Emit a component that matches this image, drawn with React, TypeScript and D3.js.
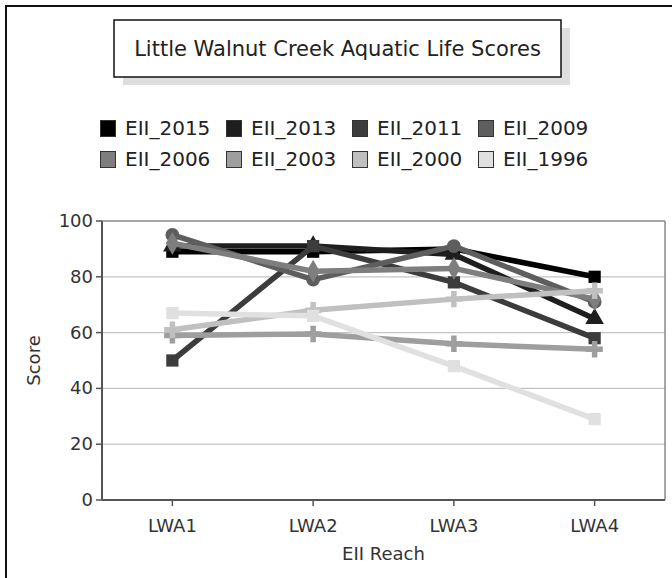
import React from "react";
import * as d3 from "d3";

const categories = ["LWA1", "LWA2", "LWA3", "LWA4"];
const seriesNames = ["EII_2015", "EII_2013", "EII_2011", "EII_2009", "EII_2006", "EII_2003", "EII_2000", "EII_1996"];
const seriesColors = ["#000000", "#1e1e1e", "#3c3c3c", "#5e5e5e", "#7e7e7e", "#9e9e9e", "#c0c0c0", "#e0e0e0"];
const v2015 = [89, 89, 90, 80];
const v2013 = [91, 91, 88, 65];
const v2011 = [50, 91, 78, 58];
const v2009 = [95, 79, 91, 71];
const v2006 = [92, 82, 83, 72];
const v2003 = [59, 59.5, 56, 54];
const v2000 = [61, 68, 72, 75];
const v1996 = [67, 66, 48, 29];
const seriesValues = [v2015, v2013, v2011, v2009, v2006, v2003, v2000, v1996];
const yTicks = [0, 20, 40, 60, 80, 100];
const symbols = [d3.symbolSquare, d3.symbolTriangle, d3.symbolSquare, d3.symbolCircle, d3.symbolDiamond, d3.symbolCross, d3.symbolCross, d3.symbolSquare];

const W = 672, H = 578;
const plot = { left: 102, right: 665, top: 221, bottom: 500 };
const FONT = "'DejaVu Sans', sans-serif";

export default function App() {
  const x = d3.scaleBand<string>().domain(categories).range([plot.left, plot.right]).paddingInner(0).paddingOuter(0);
  const cx = (c: string) => (x(c) as number) + x.bandwidth() / 2;
  const y = d3.scaleLinear().domain([0, 100]).range([plot.bottom, plot.top]);
  const line = d3.line<number>().x((_, i) => cx(categories[i])).y((d) => y(d));

  return (
    <svg width={W} height={H} style={{ position: "absolute", left: 0, top: 0, background: "#fff" }} fontFamily={FONT}>
      <rect x={0} y={0} width={W} height={H} fill="#fff" />
      <rect x={6} y={6} width={W + 10} height={H + 10} fill="none" stroke="#111" strokeWidth={2} />
      {/* title */}
      <rect x={123} y={28} width={447} height={57} fill="#dedede" />
      <rect x={114} y={20} width={447} height={57} fill="#fff" stroke="#111" strokeWidth={1.5} />
      <text x={337.5} y={56} textAnchor="middle" fontSize={21} fill="#222">Little Walnut Creek Aquatic Life Scores</text>
      {/* legend */}
      {seriesNames.map((n, i) => {
        const col = i % 4, row = Math.floor(i / 4);
        const lx = 100 + col * 126, ly = 120 + row * 31;
        return (
          <g key={n}>
            <rect x={lx + 0.5} y={ly + 0.5} width={15} height={16} fill={seriesColors[i]} stroke="#333" strokeWidth={1} />
            <text x={lx + 25} y={ly + 15} fontSize={20} fill="#222">{n}</text>
          </g>
        );
      })}
      {/* grid */}
      {yTicks.filter((t) => t > 0 && t < 100).map((t) => (
        <line key={t} x1={plot.left} x2={plot.right} y1={y(t)} y2={y(t)} stroke="#c4c4c4" strokeWidth={1.2} />
      ))}
      <line x1={plot.left} x2={plot.right} y1={plot.top} y2={plot.top} stroke="#888" strokeWidth={1.5} />
      <line x1={plot.right} x2={plot.right} y1={plot.top} y2={plot.bottom} stroke="#888" strokeWidth={1.5} />
      {/* axes */}
      <line x1={plot.left} x2={plot.left} y1={plot.top} y2={plot.bottom} stroke="#555" strokeWidth={2} />
      <line x1={plot.left} x2={plot.right} y1={plot.bottom} y2={plot.bottom} stroke="#555" strokeWidth={2} />
      {yTicks.map((t) => (
        <g key={t}>
          <line x1={plot.left - 6} x2={plot.left} y1={y(t)} y2={y(t)} stroke="#555" strokeWidth={1.5} />
          <text x={plot.left - 9} y={y(t) + 6} textAnchor="end" fontSize={18} fill="#333">{t}</text>
        </g>
      ))}
      {categories.map((c) => (
        <g key={c}>
          <line x1={cx(c)} x2={cx(c)} y1={plot.bottom} y2={plot.bottom + 6} stroke="#555" strokeWidth={1.5} />
          <text x={cx(c)} y={532} textAnchor="middle" fontSize={18} fill="#333">{c}</text>
        </g>
      ))}
      <text x={(plot.left + plot.right) / 2} y={560} textAnchor="middle" fontSize={18} fill="#333">EII Reach</text>
      <text transform={`translate(40, ${(plot.top + plot.bottom) / 2}) rotate(-90)`} textAnchor="middle" fontSize={18} fill="#333">Score</text>
      {/* series */}
      {seriesValues.map((vals, i) => (
        <g key={seriesNames[i]}>
          <path d={line(vals) as string} fill="none" stroke={seriesColors[i]} strokeWidth={5.5} strokeLinejoin="round" />
          {vals.map((v, j) => (
            <path key={j} transform={`translate(${cx(categories[j])},${y(v)})`} d={d3.symbol().type(symbols[i]).size(150)() as string} fill={seriesColors[i]} />
          ))}
        </g>
      ))}
    </svg>
  );
}
